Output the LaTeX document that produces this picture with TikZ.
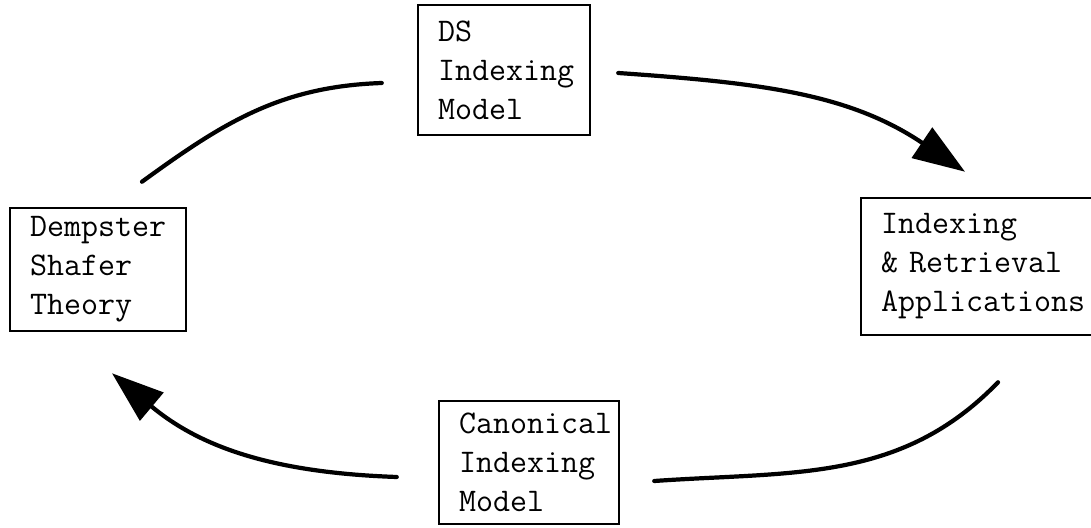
\documentclass[tikz,border=0pt]{standalone}
\usepackage{tikz}
\usetikzlibrary{arrows.meta}
\tikzstyle{box} = [draw,line width=1.8pt,rectangle,inner xsep=0.5cm,inner ysep=0.2cm,font=\ttfamily\fontsize{23.5}{27.7}\selectfont,align=left]
\tikzstyle{flow} = [line width=3pt,line cap=round]
\tikzstyle{loophead} = [-{Triangle[length=1.3cm,width=0.9cm]}]

\begin{document}
\begin{tikzpicture}
      \useasboundingbox (0,0) rectangle (27.275,-13.2);
      \node[box,text width=3.3cm,minimum height=3.25cm]  (ds)  at (12.6,-1.75)     {DS\\Indexing\\Model};
      \node[box,text width=3.4cm,minimum height=3.075cm] (dst) at (2.45,-6.7375)   {Dempster\\Shafer\\Theory};
      \node[box,text width=5.2cm,minimum height=3.425cm] (ir)  at (24.625,-6.6625) {Indexing\\\& Retrieval\\Applications};
      \node[box,text width=3.5cm,minimum height=3.075cm] (ci)  at (13.225,-11.5625) {Canonical\\Indexing\\Model};
      \draw[flow] ([xshift=1.1cm,yshift=0.625cm]dst.north) to[out=36,in=182] ([xshift=-0.875cm,yshift=-0.325cm]ds.west);
      \draw[flow,loophead] ([xshift=0.675cm,yshift=-0.075cm]ds.east) to[out=-4,in=146] ([xshift=-0.5cm,yshift=0.625cm]ir.north);
      \draw[flow] ([xshift=0.325cm,yshift=-1.15cm]ir.south) to[out=226,in=4] ([xshift=0.85cm,yshift=-0.4625cm]ci.east);
      \draw[flow,loophead] ([xshift=-1.025cm,yshift=-0.3625cm]ci.west) to[out=178,in=-40] ([xshift=0.35cm,yshift=-1.025cm]dst.south);
\end{tikzpicture}
\end{document}
